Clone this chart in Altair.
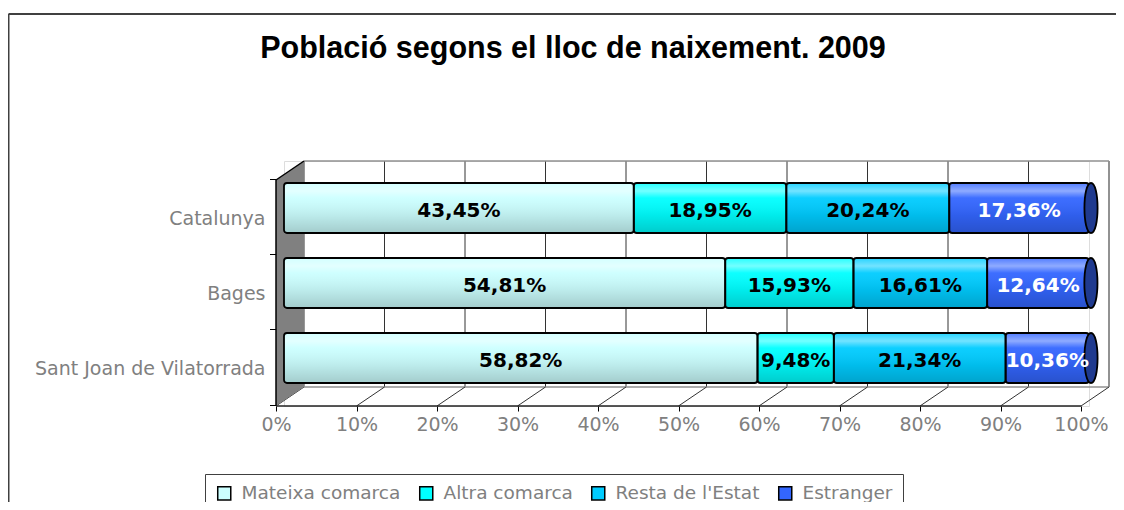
import altair as alt
import pandas as pd

categories = ["Catalunya", "Bages", "Sant Joan de Vilatorrada"]
series = ["Mateixa comarca", "Altra comarca", "Resta de l'Estat", "Estranger"]
mateixa = [43.45, 54.81, 58.82]
altra = [18.95, 15.93, 9.48]
resta = [20.24, 16.61, 21.34]
estranger = [17.36, 12.64, 10.36]
x_ticks = [0, 10, 20, 30, 40, 50, 60, 70, 80, 90, 100]
colors = ["#ccffff", "#00ffff", "#00ccff", "#3366ff"]
label_colors = ["#000000", "#000000", "#000000", "#ffffff"]
title_text = "Població segons el lloc de naixement. 2009"

rows = []
for ci, cat in enumerate(categories):
    start = 0.0
    for si, vals in enumerate([mateixa, altra, resta, estranger]):
        v = vals[ci]
        rows.append(dict(cat=cat, series=series[si], order=si, value=v,
                         x0=start, x1=start + v, mid=start + v / 2,
                         label=f"{v:.2f}".replace(".", ",") + "%",
                         tcolor=label_colors[si]))
        start += v
df = pd.DataFrame(rows)
cats_df = pd.DataFrame({"cat": categories, "x0": [0] * 3, "x1": [100] * 3})
ticks_df = pd.DataFrame({"v": x_ticks})
title_df = pd.DataFrame({"t": [title_text]})

FRONT = -8   # front face offset (px) relative to bars
BACK = 20    # back wall offset (px)
W, H = 805, 245

xs = alt.Scale(domain=[0, 100], nice=False, zero=True)
ys = alt.Scale(domain=categories, range=[9.5, 234.5], paddingInner=1 / 3, paddingOuter=1 / 6)
xaxis = alt.Axis(values=x_ticks, labelExpr="datum.value + '%'", title=None, domain=False,
                 grid=False, ticks=True, tickSize=5, tickColor="#000", tickWidth=1,
                 tickOffset=FRONT, labelFont="DejaVu Sans", labelFontSize=19,
                 labelColor="#808080", labelPadding=4, labelFlush=False)
yaxis = alt.Axis(title=None, domain=False, ticks=False, tickSize=0, labelPadding=19,
                 labelOffset=11, labelFont="DejaVu Sans", labelFontSize=19,
                 labelColor="#808080", labelLimit=400)

base = alt.Chart(ticks_df)

# outer chart frame
frame_top = alt.Chart(title_df).mark_rule(color="#404040", strokeWidth=2).encode(
    x=alt.value(-275.5), x2=alt.value(W + 80), y=alt.value(-147), y2=alt.value(-147))
frame_left = alt.Chart(title_df).mark_rule(color="#404040", strokeWidth=2).encode(
    x=alt.value(-275.5), x2=alt.value(-275.5), y=alt.value(-147), y2=alt.value(H + 120))

# back wall gridlines
grid = base.mark_rule(color="#333333", strokeWidth=1, xOffset=BACK, x2Offset=BACK).encode(
    x=alt.X("v:Q", scale=xs, axis=xaxis), x2="v:Q", y=alt.value(0), y2=alt.value(226))
wall_top = base.transform_filter("datum.v == 0").mark_rule(
    color="#909090", strokeWidth=1.5, xOffset=BACK, x2Offset=BACK).encode(
    x=alt.X("v:Q", scale=xs, axis=xaxis), x2=alt.datum(100), y=alt.value(0), y2=alt.value(0))
wall_right = base.transform_filter("datum.v == 100").mark_rule(
    color="#909090", strokeWidth=1.5, xOffset=BACK, x2Offset=BACK).encode(
    x=alt.X("v:Q", scale=xs, axis=xaxis), x2="v:Q", y=alt.value(0), y2=alt.value(226))
floor_back = base.transform_filter("datum.v == 0").mark_rule(
    color="#909090", strokeWidth=1.5, xOffset=BACK, x2Offset=BACK).encode(
    x=alt.X("v:Q", scale=xs, axis=xaxis), x2=alt.datum(100), y=alt.value(226), y2=alt.value(226))
floor_diag = base.mark_rule(color="#333333", strokeWidth=1, xOffset=FRONT, x2Offset=BACK).encode(
    x=alt.X("v:Q", scale=xs, axis=xaxis), x2="v:Q", y=alt.value(245), y2=alt.value(226))
floor_front = base.transform_filter("datum.v == 0").mark_rule(
    color="#222222", strokeWidth=1.5, xOffset=FRONT, x2Offset=FRONT).encode(
    x=alt.X("v:Q", scale=xs, axis=xaxis), x2=alt.datum(100), y=alt.value(245), y2=alt.value(245))

# side wall (grey parallelogram)
side_wall = base.transform_filter("datum.v == 0").mark_point(
    shape="M-0.1143,-0.8449L0.1143,-1L0.1143,0.8449L-0.1143,1Z", size=60025,
    filled=True, fill="#808080", opacity=1, strokeWidth=0, xOffset=6).encode(
    x=alt.X("v:Q", scale=xs, axis=xaxis), y=alt.value(122.5))
front_axis = base.transform_filter("datum.v == 0").mark_rule(
    color="#000000", strokeWidth=1.5, xOffset=FRONT, x2Offset=FRONT).encode(
    x=alt.X("v:Q", scale=xs, axis=xaxis), x2="v:Q", y=alt.value(19), y2=alt.value(245))
side_top = base.transform_filter("datum.v == 0").mark_rule(
    color="#000000", strokeWidth=1.5, xOffset=FRONT, x2Offset=BACK).encode(
    x=alt.X("v:Q", scale=xs, axis=xaxis), x2="v:Q", y=alt.value(19), y2=alt.value(0))

# category ticks on the front axis
y_ticks = alt.Chart(cats_df).mark_rule(color="#000000", strokeWidth=1, yOffset=-3.5).encode(
    y=alt.Y("cat:N", scale=ys, axis=yaxis, bandPosition=0),
    x=alt.value(-14), x2=alt.value(-8))
y_tick_last = alt.Chart(title_df).mark_rule(color="#000000", strokeWidth=1).encode(
    y=alt.value(244.5), y2=alt.value(244.5), x=alt.value(-14), x2=alt.value(-8))

# bars
bars = alt.Chart(df).mark_bar(strokeWidth=0, cornerRadius=3).encode(
    x=alt.X("x0:Q", scale=xs, axis=xaxis), x2="x1:Q",
    y=alt.Y("cat:N", scale=ys, axis=yaxis),
    color=alt.Color("series:N", scale=alt.Scale(domain=series, range=colors),
                    legend=alt.Legend(title=None, orient="none", legendX=-79, legendY=313,
                                      direction="horizontal", symbolType="square",
                                      symbolSize=170, symbolStrokeColor="#000000",
                                      symbolStrokeWidth=1.5, labelFont="DejaVu Sans",
                                      labelFontSize=18.5, labelColor="#808080",
                                      labelOffset=8, columnPadding=15, padding=10,
                                      strokeColor="#404040", fillColor="#ffffff",
                                      labelLimit=400)),
    order=alt.Order("order:Q"))

shade = alt.Chart(cats_df).mark_bar(
    cornerRadius=3, strokeWidth=0,
    fill=alt.Gradient(gradient="linear", x1=0, x2=0, y1=0, y2=1, stops=[
        alt.GradientStop(color="rgba(255,255,255,0.15)", offset=0),
        alt.GradientStop(color="rgba(255,255,255,0.45)", offset=0.16),
        alt.GradientStop(color="rgba(255,255,255,0.05)", offset=0.3),
        alt.GradientStop(color="rgba(0,0,0,0.08)", offset=0.65),
        alt.GradientStop(color="rgba(0,0,0,0.2)", offset=1)])).encode(
    x=alt.X("x0:Q", scale=xs, axis=xaxis), x2="x1:Q",
    y=alt.Y("cat:N", scale=ys, axis=yaxis))

outline = alt.Chart(df).mark_bar(fillOpacity=0, stroke="#000000", strokeWidth=1.8,
                                 cornerRadius=3).encode(
    x=alt.X("x0:Q", scale=xs, axis=xaxis), x2="x1:Q",
    y=alt.Y("cat:N", scale=ys, axis=yaxis))

caps = alt.Chart(df).transform_filter("datum.order == 3").mark_point(
    shape="M0,-1C0.35,-1 0.35,1 0,1C-0.35,1 -0.35,-1 0,-1Z", size=2500, filled=True,
    fill="#1f3a8f", stroke="#000000", strokeWidth=1.8, opacity=1, xOffset=2).encode(
    x=alt.X("x1:Q", scale=xs, axis=xaxis), y=alt.Y("cat:N", scale=ys, axis=yaxis))

labels = alt.Chart(df).mark_text(font="DejaVu Sans", fontWeight="bold", fontSize=20,
                                 baseline="middle", align="center", dy=3).encode(
    x=alt.X("mid:Q", scale=xs, axis=xaxis), y=alt.Y("cat:N", scale=ys, axis=yaxis),
    text="label:N", color=alt.Color("tcolor:N", scale=None, legend=None))

title = alt.Chart(title_df).mark_text(font="Liberation Sans", fontWeight="bold", fontSize=30.5,
                                      align="center", baseline="alphabetic",
                                      color="#000000").encode(
    text="t:N", x=alt.value(289), y=alt.value(-103))

chart = alt.layer(
    frame_top, frame_left, grid, wall_top, wall_right, floor_back, floor_diag, floor_front,
    side_wall, front_axis, side_top, y_ticks, y_tick_last,
    bars, shade, outline, caps, labels, title
).properties(
    width=W, height=H, autosize="none",
    padding={"left": 276, "top": 153, "right": 27, "bottom": 96}
).configure_view(stroke=None).configure(background="#ffffff")

chart.save("out.html", embed_options={"renderer": "svg", "actions": False})
